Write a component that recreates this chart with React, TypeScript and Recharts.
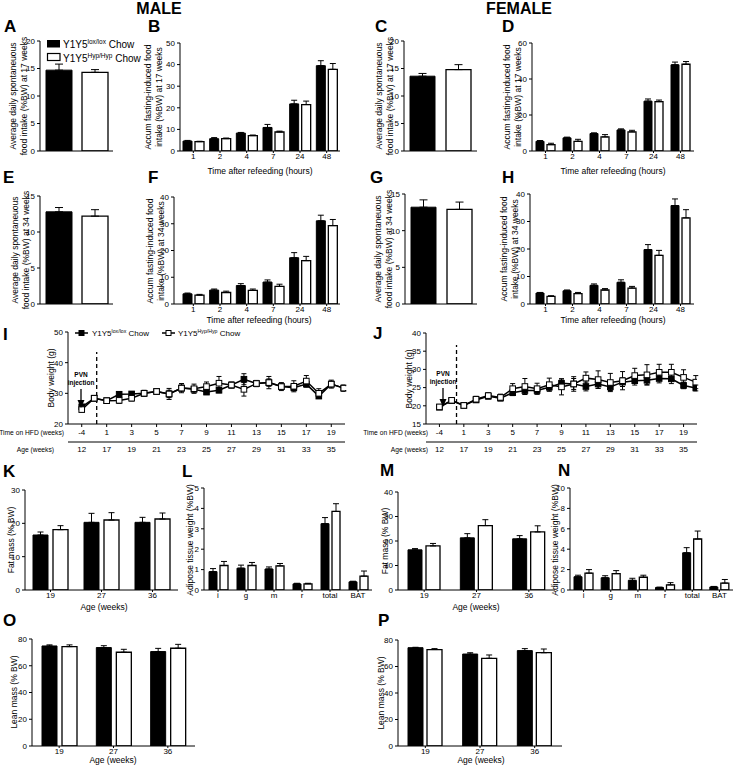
import React from 'react';
import { BarChart, Bar, XAxis, YAxis, ErrorBar, LineChart, Line, ReferenceLine } from 'recharts';

// ---- categories / ticks ----
const single = [''];
const hours = ['1', '2', '4', '7', '24', '48'];
const ageCats = ['19', '27', '36'];
const depots = ['i', 'g', 'm', 'r', 'total', 'BAT'];

const ticks15 = [0, 5, 10, 15];
const ticks20 = [0, 5, 10, 15, 20];
const ticks30 = [0, 10, 20, 30];
const ticks40 = [0, 10, 20, 30, 40];
const ticks50 = [0, 10, 20, 30, 40, 50];
const ticks60 = [0, 20, 40, 60];
const ticks80 = [0, 20, 40, 60, 80];
const ticks5 = [0, 1, 2, 3, 4, 5];
const ticks10 = [0, 2, 4, 6, 8, 10];
const bwTicksMale = [20, 30, 40, 50];
const bwTicksFemale = [15, 20, 25, 30, 35, 40];

// body weight time course: plotting slots (-4 wk, pre-HFD, then HFD weeks 1..20)
const weekPos = [-1, 0, 1, 2, 3, 4, 5, 6, 7, 8, 9, 10, 11, 12, 13, 14, 15, 16, 17, 18, 19, 20];
const tickPos = [-1, 1, 3, 5, 7, 9, 11, 13, 15, 17, 19];
const hfdLabels = ['-4', '1', '3', '5', '7', '9', '11', '13', '15', '17', '19'];
const ageLabels = ['12', '17', '19', '21', '23', '25', '27', '29', '31', '33', '35'];

// ---- values ----
// A/C/E/G average daily spontaneous intake (%BW)
const aLox = [14.7]; const aLoxErr = [1.1]; const aHyp = [14.3]; const aHypErr = [0.5];
const cLox = [13.6]; const cLoxErr = [0.5]; const cHyp = [14.8]; const cHypErr = [0.9];
const eLox = [12.8]; const eLoxErr = [0.6]; const eHyp = [12.2]; const eHypErr = [0.9];
const gLox = [13.2]; const gLoxErr = [1.0]; const gHyp = [12.9]; const gHypErr = [1.0];

// B/D/F/H accumulated fasting-induced intake
const bLox = [4.6, 5.7, 8.3, 10.9, 21.8, 39.5]; const bLoxErr = [0.3, 0.5, 0.3, 1.4, 1.7, 2.3];
const bHyp = [4.3, 5.7, 7.1, 8.8, 21.5, 37.8]; const bHypErr = [0.2, 0.3, 0.3, 0.4, 1.6, 2.7];
const dLox = [5.4, 7.3, 9.7, 11.7, 27.7, 47.9]; const dLoxErr = [0.4, 0.4, 0.4, 0.6, 1.2, 1.5];
const dHyp = [3.5, 5.4, 7.8, 10.6, 27.4, 48.2]; const dHypErr = [0.8, 1.1, 1.3, 0.9, 0.9, 1.5];
const fLox = [3.8, 5.2, 6.9, 8.2, 17.3, 31.1]; const fLoxErr = [0.3, 0.4, 0.7, 0.8, 1.9, 2.1];
const fHyp = [3.3, 4.3, 5.1, 6.6, 16.2, 29.3]; const fHypErr = [0.3, 0.5, 0.5, 0.8, 1.6, 2.3];
const hLox = [4.0, 4.8, 6.8, 7.9, 19.8, 35.8]; const hLoxErr = [0.2, 0.3, 0.5, 0.9, 1.8, 2.4];
const hHyp = [2.8, 3.8, 5.1, 5.8, 17.7, 31.3]; const hHypErr = [0.2, 0.4, 0.5, 0.6, 1.8, 3.0];

// I/J body weight (g)
const iLox = [25.6, 28.4, 27.6, 29.7, 29.8, 30.0, 30.6, 29.8, 31.7, 31.3, 30.4, 31.0, 32.7, 34.6, 33.2, 33.5, 32.2, 31.8, 33.0, 29.1, 33.0, 31.7];
const iLoxErr = [0.8, 0.8, 0.7, 0.8, 0.8, 0.8, 0.8, 1.2, 1.0, 0.8, 0.8, 0.8, 0.8, 1.8, 1.0, 1.2, 0.9, 0.9, 1.0, 0.8, 0.9, 0.8];
const iHyp = [24.7, 28.4, 27.6, 27.7, 28.4, 30.0, 30.6, 29.8, 31.7, 31.5, 32.2, 33.3, 32.7, 31.3, 33.2, 33.5, 32.2, 32.3, 34.0, 30.0, 33.0, 31.7];
const iHypErr = [0.8, 0.9, 0.8, 1.0, 0.9, 1.0, 0.9, 1.8, 1.5, 1.5, 1.5, 2.2, 1.0, 2.2, 1.0, 2.0, 1.3, 1.8, 1.8, 1.5, 1.3, 1.0];
const jLox = [19.6, 21.4, 20.1, 21.6, 22.6, 22.1, 23.6, 24.2, 24.2, 25.1, 26.2, 26.0, 25.3, 26.0, 25.2, 26.5, 26.9, 27.0, 27.5, 27.4, 25.6, 24.9];
const jLoxErr = [0.5, 0.6, 0.5, 0.6, 0.7, 0.7, 0.8, 1.0, 1.0, 1.0, 1.2, 1.5, 1.2, 1.2, 1.0, 1.2, 1.2, 1.2, 1.2, 1.3, 0.9, 0.8];
const jHyp = [19.7, 21.5, 20.1, 21.8, 22.8, 22.3, 24.7, 25.3, 24.7, 25.8, 25.2, 26.0, 27.6, 27.2, 26.4, 26.9, 28.3, 28.5, 29.2, 29.2, 27.8, 26.5];
const jHypErr = [0.6, 0.7, 0.6, 0.8, 0.8, 0.9, 1.4, 2.2, 1.5, 1.8, 2.2, 2.0, 1.7, 2.4, 2.5, 2.5, 2.0, 2.8, 2.2, 2.2, 2.1, 1.8];

// K/M fat mass, O/P lean mass (% BW)
const kLox = [16.5, 20.3, 20.3]; const kLoxErr = [0.9, 2.7, 1.5];
const kHyp = [18.1, 21.0, 21.3]; const kHypErr = [1.2, 2.2, 1.8];
const mLox = [16.4, 21.3, 20.9]; const mLoxErr = [0.5, 1.7, 1.3];
const mHyp = [18.0, 26.3, 23.7]; const mHypErr = [1.0, 2.4, 2.5];
const oLox = [74.8, 73.6, 70.6]; const oLoxErr = [0.8, 1.4, 2.4];
const oHyp = [74.3, 70.1, 73.1]; const oHypErr = [1.3, 2.2, 2.9];
const pLox = [74.2, 69.4, 72.0]; const pLoxErr = [0.3, 1.0, 1.5];
const pHyp = [72.8, 66.2, 70.4]; const pHypErr = [0.7, 2.5, 2.8];

// L/N adipose depots (%BW)
const lLox = [0.9, 1.07, 1.03, 0.3, 3.25, 0.4]; const lLoxErr = [0.15, 0.15, 0.1, 0.03, 0.3, 0.03];
const lHyp = [1.2, 1.2, 1.18, 0.3, 3.85, 0.68]; const lHypErr = [0.2, 0.15, 0.12, 0.03, 0.38, 0.25];
const nLox = [1.3, 1.2, 0.95, 0.25, 3.65, 0.3]; const nLoxErr = [0.15, 0.2, 0.2, 0.03, 0.5, 0.05];
const nHyp = [1.65, 1.6, 1.25, 0.5, 5.0, 0.68]; const nHypErr = [0.35, 0.3, 0.2, 0.22, 0.78, 0.35];

const axisStyle = { stroke: '#000', strokeWidth: 1 };
const tickStyle = { fontSize: 8, fill: '#000' };

type BarPanelProps = {
  box: number[];
  cats: string[];
  lox: number[]; loxErr: number[];
  hyp: number[]; hypErr: number[];
  yTicks: number[];
  barSize: number;
  gap: number;
  padL?: number;
  cap?: number;
  showX?: boolean;
};

function BarPanel({ box, cats, lox, loxErr, hyp, hypErr, yTicks, barSize, gap, padL = 0, cap = 3, showX = true }: BarPanelProps) {
  const [l, t, r, b] = box;
  const ML = 36, MT = 6, MR = 4, MB = 16;
  const data = cats.map((c, i) => ({ c, lox: lox[i], loxE: [0, loxErr[i]], hyp: hyp[i], hypE: [0, hypErr[i]] }));
  return (
    <div style={{ position: 'absolute', left: l - ML, top: t - MT }}>
      <BarChart width={r - l + ML + MR} height={b - t + MT + MB} data={data}
        margin={{ top: MT, right: MR, left: 0, bottom: 0 }} barGap={gap} barSize={barSize}>
        <XAxis dataKey="c" height={MB} interval={0} padding={{ left: padL, right: 0 }}
          axisLine={axisStyle} tickLine={showX ? axisStyle : false} tick={showX ? tickStyle : false} tickSize={2} tickMargin={0} />
        <YAxis width={ML} type="number" domain={[yTicks[0], yTicks[yTicks.length - 1]]} ticks={yTicks} interval={0}
          allowDataOverflow axisLine={axisStyle} tickLine={axisStyle} tick={tickStyle} tickSize={3} tickMargin={2} />
        <Bar dataKey="lox" fill="#000" stroke="#000" strokeWidth={1} isAnimationActive={false}>
          <ErrorBar dataKey="loxE" width={cap} stroke="#000" strokeWidth={1} direction="y" />
        </Bar>
        <Bar dataKey="hyp" fill="#fff" stroke="#000" strokeWidth={1.3} isAnimationActive={false}>
          <ErrorBar dataKey="hypE" width={cap} stroke="#000" strokeWidth={1} direction="y" />
        </Bar>
      </BarChart>
    </div>
  );
}

const square = (fill: string) => (p: any) => (
  <rect key={`sq-${fill}-${p.index}`} x={p.cx - 2.8} y={p.cy - 2.8} width={5.6} height={5.6}
    fill={fill} stroke="#000" strokeWidth={1} />
);

type LinePanelProps = {
  box: number[];
  lox: number[]; loxErr: number[];
  hyp: number[]; hypErr: number[];
  yTicks: number[];
  dashX: number;
  dashTop: number;
};

function LinePanel({ box, lox, loxErr, hyp, hypErr, yTicks, dashX, dashTop }: LinePanelProps) {
  const [l, t, r, b] = box;
  const ML = 40, MT = 6, MR = 6, AX1 = 18, AX2 = 16;
  const xDomain = [-2.1, 20.1];
  const data = weekPos.map((p, i) => ({ p, lox: lox[i], loxE: loxErr[i], hyp: hyp[i], hypE: hypErr[i] }));
  const yMin = yTicks[0];
  return (
    <div style={{ position: 'absolute', left: l - ML, top: t - MT }}>
      <LineChart width={r - l + ML + MR} height={b - t + MT + AX1 + AX2} data={data}
        margin={{ top: MT, right: MR, left: 0, bottom: 0 }}>
        <XAxis xAxisId="axis0" dataKey="p" type="number" domain={xDomain} ticks={tickPos} interval={0} allowDataOverflow
          tickFormatter={(v: number) => hfdLabels[tickPos.indexOf(v)] ?? ''} height={AX1}
          axisLine={axisStyle} tickLine={axisStyle} tick={tickStyle} tickSize={3} tickMargin={2} />
        <XAxis xAxisId="axis1" dataKey="p" type="number" domain={xDomain} ticks={tickPos} interval={0} allowDataOverflow
          tickFormatter={(v: number) => ageLabels[tickPos.indexOf(v)] ?? ''} height={AX2}
          axisLine={axisStyle} tickLine={false} tick={tickStyle} tickSize={0} tickMargin={4} />
        <YAxis width={ML} type="number" domain={[yTicks[0], yTicks[yTicks.length - 1]]} ticks={yTicks} interval={0}
          allowDataOverflow axisLine={axisStyle} tickLine={axisStyle} tick={tickStyle} tickSize={3} tickMargin={2} />
        <ReferenceLine xAxisId="axis0" segment={[{ x: dashX, y: yMin }, { x: dashX, y: dashTop }]}
          stroke="#000" strokeWidth={1.3} strokeDasharray="4 3" />
        <Line xAxisId="axis0" dataKey="lox" stroke="#000" strokeWidth={1.5} dot={square('#000')} isAnimationActive={false}>
          <ErrorBar dataKey="loxE" width={2.5} stroke="#000" strokeWidth={1} direction="y" />
        </Line>
        <Line xAxisId="axis0" dataKey="hyp" stroke="#000" strokeWidth={1.5} dot={square('#fff')} isAnimationActive={false}>
          <ErrorBar dataKey="hypE" width={2.5} stroke="#000" strokeWidth={1} direction="y" />
        </Line>
      </LineChart>
    </div>
  );
}

const RotLabel = ({ x, y, lines, size = 8.5, gap = 11 }: { x: number; y: number; lines: string[]; size?: number; gap?: number }) => (
  <text transform={`translate(${x},${y}) rotate(-90)`} fontSize={size} textAnchor="middle" fill="#000">
    {lines.map((s, i) => (
      <tspan key={i} x={0} dy={i === 0 ? 0 : gap}>{s}</tspan>
    ))}
  </text>
);

const Genotype = ({ x, y, sup, size }: { x: number; y: number; sup: string; size: number }) => (
  <text x={x} y={y} fontSize={size} fill="#000">
    Y1Y5<tspan fontSize={size * 0.65} dy={-size * 0.4}>{sup}</tspan>
    <tspan dy={size * 0.4}> Chow</tspan>
  </text>
);

const Letter = ({ x, y, s }: { x: number; y: number; s: string }) => (
  <text x={x} y={y} fontSize={17} fontWeight="bold" fill="#000">{s}</text>
);

const PvnArrow = ({ x, y }: { x: number; y: number }) => (
  <g>
    <text x={x} y={y} fontSize={6.5} fontWeight="bold" textAnchor="middle">PVN</text>
    <text x={x} y={y + 8} fontSize={6.5} fontWeight="bold" textAnchor="middle">injection</text>
    <line x1={x} y1={y + 12} x2={x} y2={y + 24} stroke="#000" strokeWidth={1.3} />
    <path d={`M${x - 3.5},${y + 23} L${x + 3.5},${y + 23} L${x},${y + 31} Z`} fill="#000" />
  </g>
);

function Overlay() {
  return (
    <svg width={735} height={772} style={{ position: 'absolute', left: 0, top: 0, pointerEvents: 'none' }}>
      <text x={159} y={14} fontSize={16} fontWeight="bold" textAnchor="middle">MALE</text>
      <text x={519} y={14} fontSize={16} fontWeight="bold" textAnchor="middle">FEMALE</text>

      <Letter x={4} y={32} s="A" />
      <Letter x={148} y={32} s="B" />
      <Letter x={375} y={32} s="C" />
      <Letter x={502} y={32} s="D" />
      <Letter x={3} y={183} s="E" />
      <Letter x={148} y={183} s="F" />
      <Letter x={370} y={183} s="G" />
      <Letter x={502} y={183} s="H" />
      <Letter x={3} y={340} s="I" />
      <Letter x={373} y={339} s="J" />
      <Letter x={3} y={477} s="K" />
      <Letter x={182} y={477} s="L" />
      <Letter x={380} y={476} s="M" />
      <Letter x={558} y={476} s="N" />
      <Letter x={3} y={626} s="O" />
      <Letter x={378} y={626} s="P" />

      <RotLabel x={16} y={96} lines={['Average daily spontaneuous', 'food intake (%BW) at 17 weeks']} />
      <RotLabel x={151} y={97} lines={['Accum fasting-induced food', 'intake (%BW) at 17 weeks']} />
      <RotLabel x={382} y={96} lines={['Average daily spontaneuous', 'food intake (%BW) at 17 weeks']} />
      <RotLabel x={510} y={97} lines={['Accum fasting-induced food', 'intake (%BW) at 17 weeks']} />
      <RotLabel x={18} y={250} lines={['Average daily spontaneuous', 'food intake (%BW) at 34 weeks']} />
      <RotLabel x={153} y={251} lines={['Accum fasting-induced food', 'intake (%BW) at 34 weeks']} />
      <RotLabel x={381} y={249} lines={['Average daily spontaneuous', 'food intake (%BW) at 34 weeks']} />
      <RotLabel x={507} y={249} lines={['Accum fasting-induced food', 'intake (%BW) at 34 weeks']} />
      <RotLabel x={54} y={378} lines={['Body weight (g)']} />
      <RotLabel x={412} y={379} lines={['Body weight (g)']} />
      <RotLabel x={14} y={540} lines={['Fat mass (% BW)']} />
      <RotLabel x={193} y={540} lines={['Adipose tissue weight (%BW)']} />
      <RotLabel x={388} y={541} lines={['Fat mass (% BW)']} />
      <RotLabel x={558} y={540} lines={['Adipose tissue weight (%BW)']} />
      <RotLabel x={17} y={692} lines={['Lean mass (% BW)']} />
      <RotLabel x={384} y={693} lines={['Lean mass (% BW)']} />

      <text x={260} y={174} fontSize={8.5} textAnchor="middle">Time after refeeding (hours)</text>
      <text x={613} y={174} fontSize={8.5} textAnchor="middle">Time after refeeding (hours)</text>
      <text x={259} y={323} fontSize={8.5} textAnchor="middle">Time after refeeding (hours)</text>
      <text x={613} y={323} fontSize={8.5} textAnchor="middle">Time after refeeding (hours)</text>
      <text x={104} y={610} fontSize={8.5} textAnchor="middle">Age (weeks)</text>
      <text x={476} y={610} fontSize={8.5} textAnchor="middle">Age (weeks)</text>
      <text x={113} y={763} fontSize={8.5} textAnchor="middle">Age (weeks)</text>
      <text x={481} y={763} fontSize={8.5} textAnchor="middle">Age (weeks)</text>

      <text x={64} y={435} fontSize={6.7} textAnchor="end">Time on HFD (weeks)</text>
      <text x={54} y={452} fontSize={6.7} textAnchor="end">Age (weeks)</text>
      <text x={428} y={435} fontSize={6.7} textAnchor="end">Time on HFD (weeks)</text>
      <text x={428} y={452} fontSize={6.7} textAnchor="end">Age (weeks)</text>

      <PvnArrow x={81} y={377} />
      <PvnArrow x={443} y={376} />

      {/* legend, panel A */}
      <rect x={47} y={40} width={13} height={7.5} fill="#000" />
      <rect x={47.5} y={53.5} width={12.5} height={7} fill="#fff" stroke="#000" strokeWidth={1.2} />
      <Genotype x={63} y={48} sup="lox/lox" size={10} />
      <Genotype x={63} y={62} sup="Hyp/Hyp" size={10} />

      {/* legend, panel I */}
      <line x1={75} y1={333} x2={88} y2={333} stroke="#000" strokeWidth={1.5} />
      <rect x={79} y={330.5} width={5} height={5} fill="#000" stroke="#000" />
      <Genotype x={92} y={336} sup="lox/lox" size={8} />
      <line x1={162} y1={333} x2={175} y2={333} stroke="#000" strokeWidth={1.5} />
      <rect x={166} y={330.5} width={5} height={5} fill="#fff" stroke="#000" />
      <Genotype x={178} y={336} sup="Hyp/Hyp" size={8} />
    </svg>
  );
}

export default function App() {
  return (
    <div style={{ position: 'absolute', left: 0, top: 0, width: 735, height: 772, background: '#fff', fontFamily: '"Liberation Sans", Arial, Helvetica, sans-serif' }}>
      <BarPanel box={[40, 41, 113, 151]} cats={single} lox={aLox} loxErr={aLoxErr} hyp={aHyp} hypErr={aHypErr} yTicks={ticks20} barSize={26} gap={10} cap={4} showX={false} />
      <BarPanel box={[180, 43, 340, 151]} cats={hours} lox={bLox} loxErr={bLoxErr} hyp={bHyp} hypErr={bHypErr} yTicks={ticks50} barSize={9} gap={3} />
      <BarPanel box={[404, 41, 477, 151]} cats={single} lox={cLox} loxErr={cLoxErr} hyp={cHyp} hypErr={cHypErr} yTicks={ticks20} barSize={25} gap={11} cap={4} showX={false} />
      <BarPanel box={[532, 43, 694, 151]} cats={hours} lox={dLox} loxErr={dLoxErr} hyp={dHyp} hypErr={dHypErr} yTicks={ticks60} barSize={8} gap={3} />

      <BarPanel box={[40, 196, 113, 304]} cats={single} lox={eLox} loxErr={eLoxErr} hyp={eHyp} hypErr={eHypErr} yTicks={ticks15} barSize={26} gap={10} cap={4} showX={false} />
      <BarPanel box={[174, 197, 340, 304]} cats={hours} lox={fLox} loxErr={fLoxErr} hyp={fHyp} hypErr={fHypErr} yTicks={ticks40} barSize={9} gap={3} padL={6} />
      <BarPanel box={[405, 194, 477, 304]} cats={single} lox={gLox} loxErr={gLoxErr} hyp={gHyp} hypErr={gHypErr} yTicks={ticks15} barSize={25} gap={11} cap={4} showX={false} />
      <BarPanel box={[530, 194, 694, 304]} cats={hours} lox={hLox} loxErr={hLoxErr} hyp={hHyp} hypErr={hHypErr} yTicks={ticks40} barSize={8} gap={3} padL={2} />

      <LinePanel box={[68, 332, 345, 424]} lox={iLox} loxErr={iLoxErr} hyp={iHyp} hypErr={iHypErr} yTicks={bwTicksMale} dashX={0.2} dashTop={43.5} />
      <LinePanel box={[426, 333, 697, 424]} lox={jLox} loxErr={jLoxErr} hyp={jHyp} hypErr={jHypErr} yTicks={bwTicksFemale} dashX={0.4} dashTop={36.7} />

      <BarPanel box={[25, 490, 178, 590]} cats={ageCats} lox={kLox} loxErr={kLoxErr} hyp={kHyp} hypErr={kHypErr} yTicks={ticks30} barSize={15} gap={5} />
      <BarPanel box={[204, 488, 372, 590]} cats={depots} lox={lLox} loxErr={lLoxErr} hyp={lHyp} hypErr={lHypErr} yTicks={ticks5} barSize={8} gap={3} />
      <BarPanel box={[398, 492, 555, 590]} cats={ageCats} lox={mLox} loxErr={mLoxErr} hyp={mHyp} hypErr={mHypErr} yTicks={ticks40} barSize={14} gap={4} />
      <BarPanel box={[570, 488, 733, 590]} cats={depots} lox={nLox} loxErr={nLoxErr} hyp={nHyp} hypErr={nHypErr} yTicks={ticks10} barSize={8} gap={3} />

      <BarPanel box={[32, 639, 195, 746]} cats={ageCats} lox={oLox} loxErr={oLoxErr} hyp={oHyp} hypErr={oHypErr} yTicks={ticks80} barSize={15} gap={5} />
      <BarPanel box={[398, 640, 562, 746]} cats={ageCats} lox={pLox} loxErr={pLoxErr} hyp={pHyp} hypErr={pHypErr} yTicks={ticks80} barSize={15} gap={4} />

      <Overlay />
    </div>
  );
}
